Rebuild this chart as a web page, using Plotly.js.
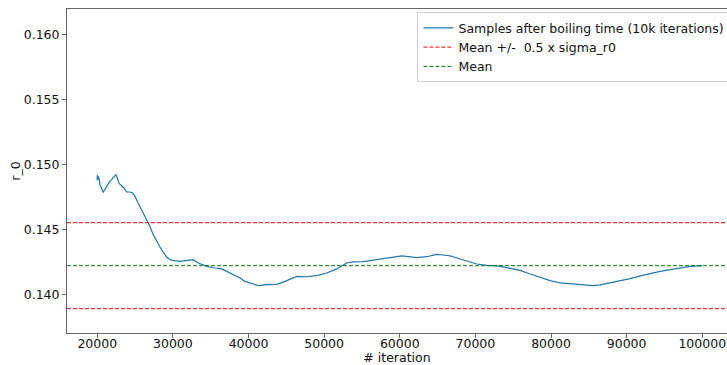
<!DOCTYPE html>
<html>
<head>
<meta charset="utf-8">
<script src="https://cdn.plot.ly/plotly-3.0.1.min.js"></script>
<style>html,body{margin:0;padding:0;background:#fff;}#chart{width:727px;height:365px;}</style>
</head>
<body>
<div id="chart"></div>
<script>
// Iteration index of the samples (after boiling time)
const iterations = [20000, 20000, 20132, 20225, 20357, 20582, 20794, 21019, 21243, 21587, 21905, 22116, 22474, 22646, 22910, 23228, 23532, 23889, 24326, 24683, 24987, 25291, 25648, 26085, 26535, 26971, 27408, 27858, 28294, 28730, 29180, 29617, 30053, 30939, 31826, 32699, 33360, 34471, 35569, 36456, 37117, 37990, 38877, 39538, 40424, 41297, 42408, 43731, 44829, 46377, 47700, 49022, 50345, 51668, 52991, 53864, 55187, 56510, 57833, 59156, 60267, 61140, 62251, 63574, 64897, 65770, 66656, 67542, 68865, 70188, 71511, 72834, 74157, 75916, 77239, 78562, 79885, 81208, 82531, 83854, 85613, 86500, 87823, 89146, 90468, 91791, 93114, 94437, 95760, 97083, 98406, 100000];
// Running r_0 values
const r0Values = [0.14923, 0.14879, 0.14910, 0.14898, 0.14846, 0.14821, 0.14790, 0.14808, 0.14833, 0.14867, 0.14885, 0.14898, 0.14923, 0.14898, 0.14854, 0.14838, 0.14821, 0.14790, 0.14790, 0.14782, 0.14756, 0.14718, 0.14679, 0.14628, 0.14577, 0.14525, 0.14462, 0.14410, 0.14367, 0.14325, 0.14290, 0.14269, 0.14262, 0.14256, 0.14264, 0.14269, 0.14244, 0.14218, 0.14205, 0.14198, 0.14179, 0.14154, 0.14128, 0.14102, 0.14085, 0.14069, 0.14077, 0.14079, 0.14102, 0.14141, 0.14138, 0.14146, 0.14167, 0.14198, 0.14244, 0.14252, 0.14254, 0.14264, 0.14275, 0.14285, 0.14298, 0.14292, 0.14285, 0.14292, 0.14310, 0.14305, 0.14298, 0.14282, 0.14256, 0.14236, 0.14225, 0.14221, 0.14208, 0.14187, 0.14159, 0.14133, 0.14108, 0.14090, 0.14085, 0.14077, 0.14069, 0.14075, 0.14090, 0.14108, 0.14123, 0.14144, 0.14164, 0.14179, 0.14192, 0.14205, 0.14218, 0.14223];
const meanR0 = 0.14223;
const halfSigmaR0 = 0.00331;
const lineSpan = [16000, 104000];
const xTicks = [20000, 30000, 40000, 50000, 60000, 70000, 80000, 90000, 100000];
const yTicks = [0.140, 0.145, 0.150, 0.155, 0.160];
const yTickText = ["0.140", "0.145", "0.150", "0.155", "0.160"];

const upper = meanR0 + halfSigmaR0, lower = meanR0 - halfSigmaR0;
const traces = [
  {x: iterations, y: r0Values, mode: 'lines', name: 'Samples after boiling time (10k iterations)',
   line: {color: '#1f77b4', width: 1.2}},
  {x: [lineSpan[0], lineSpan[1], null, lineSpan[0], lineSpan[1]], y: [upper, upper, null, lower, lower],
   mode: 'lines', connectgaps: false,
   name: 'Mean +/-\u00a0\u00a00.5 x sigma_r0',
   line: {color: '#ff0000', width: 1, dash: '4px,2px'}},
  {x: lineSpan, y: [meanR0, meanR0], mode: 'lines', name: 'Mean',
   line: {color: '#008000', width: 1, dash: '4px,2px'}}
];
const layout = {
  width: 727, height: 365,
  margin: {l: 67, r: 0, t: 9, b: 32, pad: 0, autoexpand: false},
  paper_bgcolor: '#fff', plot_bgcolor: '#fff',
  font: {family: 'DejaVu Sans', size: 12.5, color: '#111'},
  showlegend: true,
  legend: {x: 0.531, y: 0.99, xanchor: 'left', yanchor: 'top', bgcolor: '#fff',
           bordercolor: '#d0d0d0', borderwidth: 1, font: {size: 12.5, family: 'DejaVu Sans', color: '#111'},
           tracegroupgap: 0, itemwidth: 30, traceorder: 'normal'},
  xaxis: {range: [16000, 103270], tickvals: xTicks, ticktext: xTicks.map(String),
          showgrid: false, zeroline: false, showline: true, mirror: true, linecolor: '#666', linewidth: 1,
          ticks: 'outside', ticklen: 4, tickcolor: '#666', ticklabelstandoff: -5, ticklabeloverflow: 'allow',
          title: {text: '# iteration', font: {size: 12.5}, standoff: 1}},
  yaxis: {range: [0.13705, 0.16198], tickvals: yTicks, ticktext: yTickText,
          showgrid: false, zeroline: false, showline: true, mirror: false, linecolor: '#666', linewidth: 1,
          ticks: 'outside', ticklen: 4, tickcolor: '#666',
          title: {text: 'r_0', font: {size: 12.5}, standoff: 0}}
};
Plotly.newPlot('chart', traces, layout, {displayModeBar: false, staticPlot: true});
</script>
</body>
</html>
